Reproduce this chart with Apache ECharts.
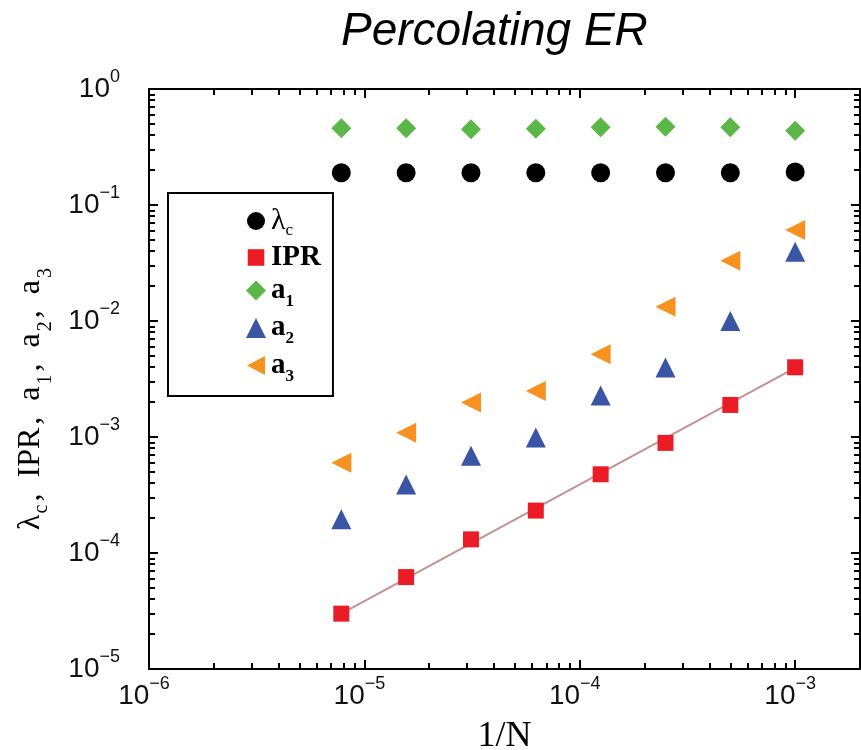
<!DOCTYPE html>
<html>
<head>
<meta charset="utf-8">
<script src="https://cdn.jsdelivr.net/npm/echarts@6/dist/echarts.min.js"></script>
<style>
  html, body { margin: 0; padding: 0; background: #ffffff; }
  #chart { width: 861px; height: 750px; }
</style>
</head>
<body>
<div id="chart"></div>
<script>
// Network sizes N; the x coordinate is 1/N
const sizes = [128000, 64000, 32000, 16000, 8000, 4000, 2000, 1000];

// Measured quantities at each size (same order as sizes)
const lambdaC = [0.19, 0.19, 0.19, 0.19, 0.19, 0.19, 0.19, 0.193];
const ipr     = [3.0e-5, 6.2e-5, 1.31e-4, 2.32e-4, 4.77e-4, 8.9e-4, 1.89e-3, 3.99e-3];
const a1      = [0.458, 0.458, 0.449, 0.455, 0.467, 0.473, 0.467, 0.437];
const a2      = [1.95e-4, 3.9e-4, 6.9e-4, 9.9e-4, 2.28e-3, 3.97e-3, 1.0e-2, 3.96e-2];
const a3      = [6.0e-4, 1.09e-3, 1.98e-3, 2.49e-3, 5.16e-3, 1.33e-2, 3.31e-2, 6.09e-2];

// Power-law fit through the IPR points (end points)
const fitX = [1 / 128000, 1 / 1000];
const fitY = [3.0e-5, 3.95e-3];

// Axis ranges and labelled decades
const xRange = [1e-6, 2e-3];
const yRange = [1e-5, 1];
const xMajor = [1e-6, 1e-5, 1e-4, 1e-3];
const yMajor = [1e-5, 1e-4, 1e-3, 1e-2, 1e-1, 1];

// Legend entries
const legendNames = ['λc', 'IPR', 'a1', 'a2', 'a3'];
const legendText = {
  'λc': '{m|λ}{c|c}',
  'IPR': '{b|IPR}',
  'a1': '{b|a}{d|1}',
  'a2': '{b|a}{d|2}',
  'a3': '{b|a}{d|3}'
};
// Legend icons in a 20×20 box (the leading moves fix the box size)
const legendIcons = {
  'λc': 'path://M0,0M20,20M19,10A9,9,0,1,1,1,10A9,9,0,1,1,19,10Z',
  'IPR': 'path://M0,0M20,20M1.7,1.7L18.3,1.7L18.3,18.3L1.7,18.3Z',
  'a1': 'diamond',
  'a2': 'triangle',
  'a3': 'path://M0,0M20,20M1,10L19,0.5L19,19.5Z'
};

const invN = sizes.map(n => 1 / n);
const pairs = ys => invN.map((x, i) => [x, ys[i]]);

// 2..9 × 10^k minor ticks inside a log range
function minorTicks(range) {
  const out = [];
  const e0 = Math.floor(Math.log10(range[0]));
  const e1 = Math.ceil(Math.log10(range[1]));
  for (let e = e0; e <= e1; e++) {
    for (let m = 2; m <= 9; m++) {
      const v = m * Math.pow(10, e);
      if (v > range[0] * 1.0001 && v < range[1] * 0.9999) out.push(v);
    }
  }
  return out;
}

function powLabel(v) {
  const e = Math.round(Math.log10(v));
  return '{b|10}{s|' + (e < 0 ? '\u2212' + (-e) : String(e)) + '}';
}

const SANS = 'Liberation Sans, Arial, Helvetica, sans-serif';
const SERIF = 'Liberation Serif, Times New Roman, serif';
const INK = '#111111';

const labelRich = {
  b: { fontFamily: SANS, fontSize: 28, lineHeight: 36, color: INK },
  s: { fontFamily: SANS, fontSize: 18, color: INK, verticalAlign: 'top', height: 12, lineHeight: 36 }
};

function frameAxis(pos, grid, ticks, tickLen, withLine, labels, range) {
  return {
    type: 'log',
    logBase: 10,
    gridIndex: grid,
    position: pos,
    min: range[0],
    max: range[1],
    axisLine: { show: withLine, lineStyle: { color: '#000', width: 2 } },
    axisTick: {
      show: true, inside: true, length: tickLen,
      customValues: ticks,
      lineStyle: { color: '#000', width: 2 }
    },
    axisLabel: labels ? Object.assign({ show: true, customValues: ticks, formatter: powLabel, rich: labelRich, color: INK }, labels) : { show: false },
    minorTick: { show: false },
    splitLine: { show: false },
    splitArea: { show: false }
  };
}

const xAxes = [
  Object.assign(frameAxis('bottom', 0, xMajor, 9, true, { margin: 9, padding: [0, 10, 0, 0] }, xRange), {
    name: '1/N',
    nameLocation: 'middle',
    nameGap: 48,
    nameTextStyle: { fontFamily: SERIF, fontSize: 36, color: '#000', lineHeight: 40 }
  }),
  frameAxis('top', 0, xMajor, 9, true, null, xRange),
  frameAxis('bottom', 1, minorTicks(xRange), 6, false, null, xRange),
  frameAxis('top', 1, minorTicks(xRange), 6, false, null, xRange)
];

const yAxes = [
  Object.assign(frameAxis('left', 0, yMajor, 9, true, { margin: 29 }, yRange), {
    name: '{m|λ}{c|c}{p|,}{m| IPR}{p|,}{m| a}{d|1}{p|,}{m| a}{d|2}{p|,}{m| a}{d|3}',
    nameLocation: 'middle',
    nameGap: 98,
    nameTextStyle: {
      padding: [0, 40, 0, 0],
      rich: {
        m: { fontFamily: SERIF, fontSize: 32, lineHeight: 40, color: '#000' },
        p: { fontFamily: SERIF, fontSize: 32, lineHeight: 40, color: '#000', padding: [0, 8, 0, 3] },
        c: { fontFamily: SERIF, fontSize: 20, lineHeight: 40, color: '#000', verticalAlign: 'bottom', height: 18, padding: [0, 0, 0, 1] },
        d: { fontFamily: SERIF, fontSize: 20, lineHeight: 40, color: '#000', verticalAlign: 'bottom', height: 10, padding: [0, 0, 0, 2] }
      }
    }
  }),
  frameAxis('right', 0, yMajor, 9, true, null, yRange),
  frameAxis('left', 1, minorTicks(yRange), 6, false, null, yRange),
  frameAxis('right', 1, minorTicks(yRange), 6, false, null, yRange)
];

const gridBox = { left: 149, right: 1, top: 89, bottom: 81, containLabel: false, outerBoundsMode: 'none' };

const option = {
  animation: false,
  backgroundColor: '#ffffff',
  title: {
    text: 'Percolating ER',
    left: 341,
    top: 9,
    padding: 0,
    textStyle: { fontFamily: SANS, fontSize: 46, fontStyle: 'italic', fontWeight: 'normal', color: '#000' }
  },
  grid: [Object.assign({}, gridBox), Object.assign({}, gridBox)],
  xAxis: xAxes,
  yAxis: yAxes,
  legend: {
    data: legendNames.map(name => ({ name: name, icon: legendIcons[name] })),
    orient: 'vertical',
    left: 168,
    top: 193,
    padding: [13, 12, 11, 78],
    itemWidth: 20,
    itemHeight: 20,
    itemGap: 3,
    borderColor: '#000',
    borderWidth: 2,
    backgroundColor: '#ffffff',
    selectedMode: false,
    formatter: name => legendText[name],
    textStyle: {
      lineHeight: 30,
      rich: {
        m: { fontFamily: SERIF, fontSize: 30, lineHeight: 30, color: '#000' },
        b: { fontFamily: SERIF, fontSize: 29, fontWeight: 'bold', lineHeight: 30, color: '#000' },
        c: { fontFamily: SERIF, fontSize: 17, lineHeight: 30, color: '#000', verticalAlign: 'bottom', height: 10 },
        d: { fontFamily: SERIF, fontSize: 17, lineHeight: 30, fontWeight: 'bold', color: '#000', verticalAlign: 'bottom', height: 8 }
      }
    }
  },
  series: [
    {
      name: 'fit', type: 'line', data: fitX.map((x, i) => [x, fitY[i]]),
      showSymbol: false, symbol: 'none', z: 1,
      lineStyle: { color: '#c39292', width: 2 }
    },
    {
      name: 'λc', type: 'scatter', data: pairs(lambdaC), z: 3,
      symbol: 'circle', symbolSize: 19, itemStyle: { color: '#000000', opacity: 1 }
    },
    {
      name: 'IPR', type: 'scatter', data: pairs(ipr), z: 3,
      symbol: 'rect', symbolSize: 16, itemStyle: { color: '#ec1c27', opacity: 1 }
    },
    {
      name: 'a1', type: 'scatter', data: pairs(a1), z: 3,
      symbol: 'diamond', symbolSize: 20, itemStyle: { color: '#5bb848', opacity: 1 }
    },
    {
      name: 'a2', type: 'scatter', data: pairs(a2), z: 3,
      symbol: 'triangle', symbolSize: 20, itemStyle: { color: '#3a54a6', opacity: 1 }
    },
    {
      name: 'a3', type: 'scatter', data: pairs(a3), z: 3,
      symbol: 'triangle', symbolRotate: 90, symbolSize: 20, itemStyle: { color: '#f7911f', opacity: 1 }
    }
  ]
};

const chart = echarts.init(document.getElementById('chart'), null, { renderer: 'canvas' });
chart.setOption(option);
</script>
</body>
</html>
